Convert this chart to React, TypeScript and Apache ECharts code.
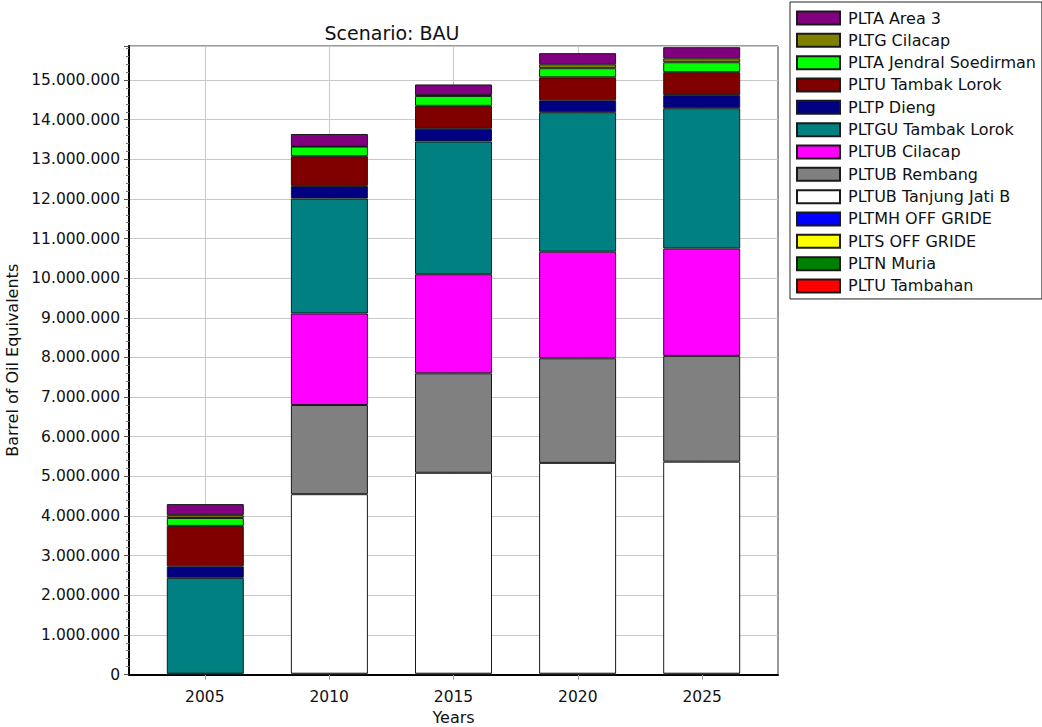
import React, { useEffect, useRef } from "react";
import * as echarts from "echarts";

const years = [2005, 2010, 2015, 2020, 2025];
const yearLabels = years.map(String);

// Series listed bottom-to-top in the stack
const seriesNames = [
  "PLTU Tambahan",
  "PLTN Muria",
  "PLTS OFF GRIDE",
  "PLTMH OFF GRIDE",
  "PLTUB Tanjung Jati B",
  "PLTUB Rembang",
  "PLTUB Cilacap",
  "PLTGU Tambak Lorok",
  "PLTP Dieng",
  "PLTU Tambak Lorok",
  "PLTA Jendral Soedirman",
  "PLTG Cilacap",
  "PLTA Area 3",
];

const pltuTambahan = [0, 0, 0, 0, 0];
const pltnMuria = [0, 0, 0, 0, 0];
const pltsOffGride = [0, 0, 0, 0, 0];
const pltmhOffGride = [0, 20000, 20000, 20000, 20000];
const pltubTanjungJatiB = [0, 4530000, 5070000, 5320000, 5350000];
const pltubRembang = [0, 2250000, 2510000, 2640000, 2670000];
const pltubCilacap = [20000, 2310000, 2500000, 2690000, 2710000];
const pltguTambakLorok = [2420000, 2900000, 3350000, 3520000, 3540000];
const pltpDieng = [290000, 320000, 320000, 300000, 330000];
const pltuTambakLorok = [1020000, 750000, 580000, 580000, 580000];
const pltaJendralSoedirman = [200000, 240000, 250000, 230000, 250000];
const pltgCilacap = [70000, 10000, 20000, 100000, 100000];
const pltaArea3 = [280000, 310000, 270000, 280000, 280000];

const seriesValues = [
  pltuTambahan,
  pltnMuria,
  pltsOffGride,
  pltmhOffGride,
  pltubTanjungJatiB,
  pltubRembang,
  pltubCilacap,
  pltguTambakLorok,
  pltpDieng,
  pltuTambakLorok,
  pltaJendralSoedirman,
  pltgCilacap,
  pltaArea3,
];

const seriesColors = [
  "#ff0000",
  "#008000",
  "#ffff00",
  "#0000ff",
  "#ffffff",
  "#808080",
  "#ff00ff",
  "#008080",
  "#000080",
  "#800000",
  "#00ff00",
  "#808000",
  "#800080",
];

const yTicksStep = 1000000;
const yMax = 15860000;
const xMin = 2001.95;
const xMax = 2028.05;

const FONT = "DejaVu Sans";

function fmt(v: number): string {
  return String(Math.round(v)).replace(/\B(?=(\d{3})+(?!\d))/g, ".");
}

export default function App() {
  const ref = useRef<HTMLDivElement>(null);

  useEffect(() => {
    if (!ref.current) return;
    const chart = echarts.init(ref.current, undefined, { renderer: "svg" });

    const series = seriesNames.map((name, i) => ({
      name,
      type: "bar",
      stack: "total",
      xAxisIndex: 1,
      yAxisIndex: 1,
      barWidth: 77,
      itemStyle: {
        color: seriesColors[i],
        borderColor: "#1a1a1a",
        borderWidth: 1,
      },
      emphasis: { disabled: true },
      data: seriesValues[i].map((v) => (v === 0 ? "-" : v)),
    }));

    chart.setOption({
      animation: false,
      backgroundColor: "#ffffff",
      textStyle: { fontFamily: FONT },
      graphic: [
        {
          type: "text",
          x: 392,
          y: 33,
          style: {
            text: "Scenario: BAU",
            fontFamily: FONT,
            fontSize: 19,
            fill: "#111",
            textAlign: "center",
            textVerticalAlign: "middle",
          },
        },
      ],
      legend: {
        orient: "vertical",
        left: 790,
        top: 2,
        padding: [8, 6, 5, 6],
        itemWidth: 43,
        itemHeight: 13,
        itemGap: 6.33,
        borderColor: "#222",
        borderWidth: 1,
        icon: "rect",
        selectedMode: false,
        data: seriesNames.slice().reverse(),
        textStyle: {
          fontFamily: FONT,
          fontSize: 16,
          color: "#111",
          padding: [0, 0, 0, 3],
        },
      },
      grid: [
        {
          left: 129,
          right: 264,
          top: 46,
          bottom: 52.5,
          show: true,
          borderColor: "#333",
          borderWidth: 1,
          containLabel: false,
          outerBoundsMode: "none",
        },
        {
          left: 143.25,
          right: 278.25,
          top: 46,
          bottom: 52.5,
          show: false,
          containLabel: false,
          outerBoundsMode: "none",
        },
      ],
      xAxis: [
        {
          type: "value",
          gridIndex: 0,
          min: xMin,
          max: xMax,
          name: "Years",
          nameLocation: "middle",
          nameGap: 34,
          nameTextStyle: { fontFamily: FONT, fontSize: 16, color: "#111" },
          axisLine: { show: true, onZero: false, lineStyle: { color: "#000", width: 2 } },
          axisTick: {
            show: true,
            customValues: years,
            length: 5,
            lineStyle: { color: "#999" },
          },
          axisLabel: {
            customValues: years,
            fontFamily: FONT,
            fontSize: 15.5,
            color: "#111",
            margin: 14,
            formatter: (v: number) => String(v),
          },
          splitLine: { show: true, lineStyle: { color: "#c8c8c8", width: 1 } },
          z: 1,
        },
        {
          type: "category",
          gridIndex: 1,
          data: yearLabels,
          show: false,
          axisLine: { show: false },
          axisTick: { show: false },
          axisLabel: { show: false },
          splitLine: { show: false },
        },
      ],
      yAxis: [
        {
          type: "value",
          gridIndex: 0,
          min: 0,
          max: yMax,
          interval: yTicksStep,
          name: "Barrel of Oil Equivalents",
          nameLocation: "middle",
          nameGap: 106,
          nameTextStyle: { fontFamily: FONT, fontSize: 16, color: "#111" },
          axisLine: { show: true, lineStyle: { color: "#000", width: 2 } },
          axisTick: { show: true, length: 5, lineStyle: { color: "#555" } },
          minorTick: { show: true, splitNumber: 5, length: 3, lineStyle: { color: "#777" } },
          axisLabel: {
            fontFamily: FONT,
            fontSize: 15.5,
            color: "#111",
            margin: 9,
            showMaxLabel: false,
            formatter: (v: number) => fmt(v),
          },
          splitLine: { show: true, lineStyle: { color: "#c8c8c8", width: 1 } },
        },
        {
          type: "value",
          gridIndex: 1,
          min: 0,
          max: yMax,
          show: false,
          axisLine: { show: false },
          axisTick: { show: false },
          axisLabel: { show: false },
          splitLine: { show: false },
        },
      ],
      series,
    });

    return () => chart.dispose();
  }, []);

  return (
    <div
      ref={ref}
      style={{ position: "fixed", left: 0, top: 0, width: 1042, height: 727 }}
    />
  );
}
